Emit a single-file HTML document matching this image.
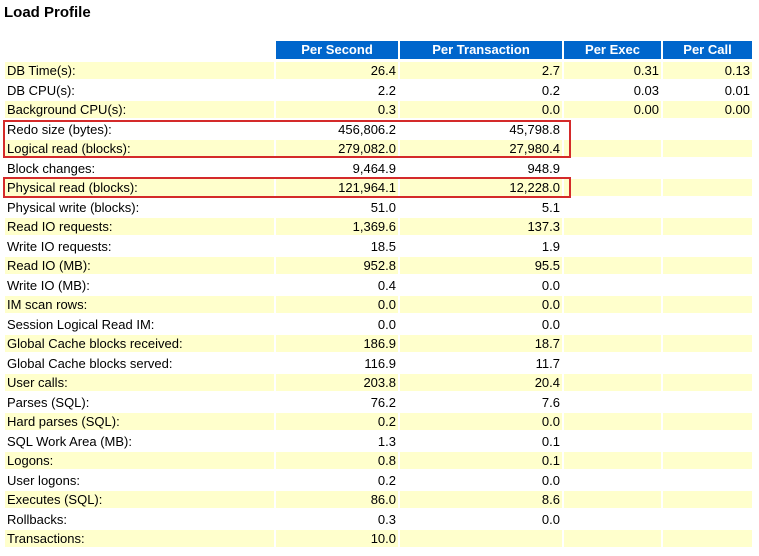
<!DOCTYPE html>
<html><head><meta charset="utf-8"><style>
body{margin:0;width:759px;height:556px;background:#fff;font-family:"Liberation Sans",Arial,sans-serif;position:relative;overflow:hidden}
.t{position:absolute;left:4px;top:4px;font-size:15px;font-weight:bold;color:#000}
.c{position:absolute;height:17px;line-height:17px;font-size:13px;color:#000;box-sizing:border-box;padding:0 2px;white-space:nowrap}
.h{background:#0066cc;color:#fff;font-weight:bold;text-align:center;height:18px;line-height:18px}
.r{text-align:right}
.y{background:#ffffcc}
.box{position:absolute;border:2px solid #d42a2a;box-sizing:border-box}
</style></head><body>
<div class="t">Load Profile</div>
<div id="tbl"></div>
<div class="box" style="left:3px;top:120px;width:568px;height:38px"></div>
<div class="box" style="left:3px;top:177px;width:568px;height:21px"></div>
<script>
const headers=["","Per Second","Per Transaction","Per Exec","Per Call"];
const labels=["DB Time(s):","DB CPU(s):","Background CPU(s):","Redo size (bytes):","Logical read (blocks):","Block changes:","Physical read (blocks):","Physical write (blocks):","Read IO requests:","Write IO requests:","Read IO (MB):","Write IO (MB):","IM scan rows:","Session Logical Read IM:","Global Cache blocks received:","Global Cache blocks served:","User calls:","Parses (SQL):","Hard parses (SQL):","SQL Work Area (MB):","Logons:","User logons:","Executes (SQL):","Rollbacks:","Transactions:"];
const perSecond=["26.4","2.2","0.3","456,806.2","279,082.0","9,464.9","121,964.1","51.0","1,369.6","18.5","952.8","0.4","0.0","0.0","186.9","116.9","203.8","76.2","0.2","1.3","0.8","0.2","86.0","0.3","10.0"];
const perTxn=["2.7","0.2","0.0","45,798.8","27,980.4","948.9","12,228.0","5.1","137.3","1.9","95.5","0.0","0.0","0.0","18.7","11.7","20.4","7.6","0.0","0.1","0.1","0.0","8.6","0.0",""];
const perExec=["0.31","0.03","0.00"];
const perCall=["0.13","0.01","0.00"];
const colX=[5,276,400,564,663];
const colW=[269,122,162,97,89];
const tbl=document.getElementById('tbl');
headers.forEach((h,j)=>{
  if(!h)return;
  const d=document.createElement('div');
  d.className='c h';
  
  
  d.style.left=colX[j]+'px';d.style.top='41px';d.style.width=colW[j]+'px';
  d.textContent=h;tbl.appendChild(d);
});
labels.forEach((lab,i)=>{
  const top=62+i*19.5;
  const vals=[lab,perSecond[i],perTxn[i],perExec[i]||"",perCall[i]||""];
  vals.forEach((v,j)=>{
    const d=document.createElement('div');
    d.className='c'+(j>0?' r':'')+(i%2===0?' y':'');
    
    
    d.style.left=colX[j]+'px';d.style.top=top+'px';d.style.width=colW[j]+'px';
    d.textContent=v;tbl.appendChild(d);
  });
});
</script>
</body></html>
